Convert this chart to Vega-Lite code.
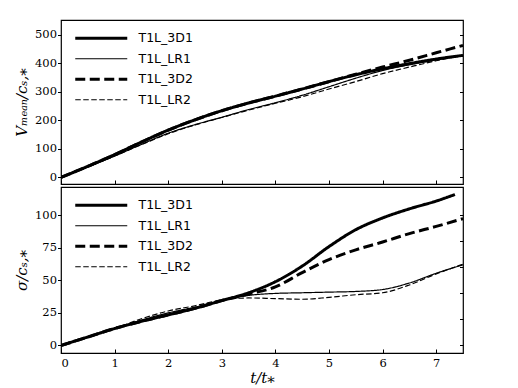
{
  "$schema": "https://vega.github.io/schema/vega-lite/v6.json",
  "background": "white",
  "padding": {"left": 13, "top": 19, "right": 5, "bottom": 2},
  "spacing": 0,
  "config": {
    "view": {"stroke": "black", "strokeWidth": 1.2},
    "axis": {
      "grid": false, "domain": false, "tickColor": "black", "tickWidth": 1,
      "labelFont": "DejaVu Serif", "labelFontSize": 11.5, "labelColor": "black",
      "titleFont": "DejaVu Serif", "titleFontStyle": "italic", "titleFontWeight": "normal",
      "titleFontSize": 15, "titleColor": "black"
    },
    "legend": {
      "orient": "none", "legendX": 34, "legendY": 12, "padding": 0,
      "symbolType": "M-6.5,0H6.5", "symbolSize": 64, "symbolStrokeColor": "black",
      "symbolStrokeWidth": 1.2, "symbolFillColor": "transparent",
      "labelFont": "DejaVu Sans", "labelFontSize": 12.5, "labelColor": "black",
      "labelOffset": 31, "rowPadding": 7.5
    }
  },
  "datasets": {
    "vmean": [
      {"run": "T1L_3D1", "t": 0, "value": 0}, {"run": "T1L_3D1", "t": 0.5, "value": 39}, {"run": "T1L_3D1", "t": 1, "value": 80}, {"run": "T1L_3D1", "t": 1.5, "value": 124}, {"run": "T1L_3D1", "t": 2, "value": 166}, {"run": "T1L_3D1", "t": 2.5, "value": 202}, {"run": "T1L_3D1", "t": 3, "value": 234}, {"run": "T1L_3D1", "t": 3.5, "value": 261}, {"run": "T1L_3D1", "t": 4, "value": 285}, {"run": "T1L_3D1", "t": 4.5, "value": 310}, {"run": "T1L_3D1", "t": 5, "value": 336}, {"run": "T1L_3D1", "t": 5.5, "value": 360}, {"run": "T1L_3D1", "t": 6, "value": 381}, {"run": "T1L_3D1", "t": 6.5, "value": 399}, {"run": "T1L_3D1", "t": 7, "value": 415}, {"run": "T1L_3D1", "t": 7.5, "value": 428},
      {"run": "T1L_LR1", "t": 0, "value": 0}, {"run": "T1L_LR1", "t": 0.5, "value": 37}, {"run": "T1L_LR1", "t": 1, "value": 75}, {"run": "T1L_LR1", "t": 1.5, "value": 116}, {"run": "T1L_LR1", "t": 2, "value": 155}, {"run": "T1L_LR1", "t": 2.5, "value": 185}, {"run": "T1L_LR1", "t": 3, "value": 211}, {"run": "T1L_LR1", "t": 3.5, "value": 238}, {"run": "T1L_LR1", "t": 4, "value": 262}, {"run": "T1L_LR1", "t": 4.5, "value": 288}, {"run": "T1L_LR1", "t": 5, "value": 318}, {"run": "T1L_LR1", "t": 5.5, "value": 348}, {"run": "T1L_LR1", "t": 6, "value": 375}, {"run": "T1L_LR1", "t": 6.5, "value": 395}, {"run": "T1L_LR1", "t": 7, "value": 412}, {"run": "T1L_LR1", "t": 7.5, "value": 427},
      {"run": "T1L_3D2", "t": 0, "value": 0}, {"run": "T1L_3D2", "t": 0.5, "value": 39}, {"run": "T1L_3D2", "t": 1, "value": 80}, {"run": "T1L_3D2", "t": 1.5, "value": 124}, {"run": "T1L_3D2", "t": 2, "value": 166}, {"run": "T1L_3D2", "t": 2.5, "value": 202}, {"run": "T1L_3D2", "t": 3, "value": 234}, {"run": "T1L_3D2", "t": 3.5, "value": 261}, {"run": "T1L_3D2", "t": 4, "value": 285}, {"run": "T1L_3D2", "t": 4.5, "value": 310}, {"run": "T1L_3D2", "t": 5, "value": 336}, {"run": "T1L_3D2", "t": 5.5, "value": 362}, {"run": "T1L_3D2", "t": 6, "value": 387}, {"run": "T1L_3D2", "t": 6.5, "value": 411}, {"run": "T1L_3D2", "t": 7, "value": 437}, {"run": "T1L_3D2", "t": 7.5, "value": 463},
      {"run": "T1L_LR2", "t": 0, "value": 0}, {"run": "T1L_LR2", "t": 0.5, "value": 37}, {"run": "T1L_LR2", "t": 1, "value": 75}, {"run": "T1L_LR2", "t": 1.5, "value": 115}, {"run": "T1L_LR2", "t": 2, "value": 153}, {"run": "T1L_LR2", "t": 2.5, "value": 184}, {"run": "T1L_LR2", "t": 3, "value": 210}, {"run": "T1L_LR2", "t": 3.5, "value": 236}, {"run": "T1L_LR2", "t": 4, "value": 260}, {"run": "T1L_LR2", "t": 4.5, "value": 283}, {"run": "T1L_LR2", "t": 5, "value": 310}, {"run": "T1L_LR2", "t": 5.5, "value": 336}, {"run": "T1L_LR2", "t": 6, "value": 364}, {"run": "T1L_LR2", "t": 6.5, "value": 387}, {"run": "T1L_LR2", "t": 7, "value": 409}, {"run": "T1L_LR2", "t": 7.5, "value": 428}
    ],
    "sigma": [
      {"run": "T1L_3D1", "t": 0, "value": 0}, {"run": "T1L_3D1", "t": 0.5, "value": 6.5}, {"run": "T1L_3D1", "t": 1, "value": 13}, {"run": "T1L_3D1", "t": 1.5, "value": 18.5}, {"run": "T1L_3D1", "t": 2, "value": 23.5}, {"run": "T1L_3D1", "t": 2.5, "value": 28.5}, {"run": "T1L_3D1", "t": 3, "value": 34.5}, {"run": "T1L_3D1", "t": 3.5, "value": 40.5}, {"run": "T1L_3D1", "t": 4, "value": 49}, {"run": "T1L_3D1", "t": 4.5, "value": 61}, {"run": "T1L_3D1", "t": 5, "value": 76}, {"run": "T1L_3D1", "t": 5.5, "value": 89}, {"run": "T1L_3D1", "t": 6, "value": 98}, {"run": "T1L_3D1", "t": 6.5, "value": 105}, {"run": "T1L_3D1", "t": 7, "value": 111}, {"run": "T1L_3D1", "t": 7.35, "value": 116},
      {"run": "T1L_LR1", "t": 0, "value": 0}, {"run": "T1L_LR1", "t": 0.5, "value": 6.5}, {"run": "T1L_LR1", "t": 1, "value": 13}, {"run": "T1L_LR1", "t": 1.5, "value": 19.5}, {"run": "T1L_LR1", "t": 2, "value": 25}, {"run": "T1L_LR1", "t": 2.5, "value": 29.5}, {"run": "T1L_LR1", "t": 3, "value": 34.5}, {"run": "T1L_LR1", "t": 3.5, "value": 38.5}, {"run": "T1L_LR1", "t": 4, "value": 40}, {"run": "T1L_LR1", "t": 4.5, "value": 40.5}, {"run": "T1L_LR1", "t": 5, "value": 41}, {"run": "T1L_LR1", "t": 5.5, "value": 41.5}, {"run": "T1L_LR1", "t": 6, "value": 43}, {"run": "T1L_LR1", "t": 6.5, "value": 48}, {"run": "T1L_LR1", "t": 7, "value": 55.5}, {"run": "T1L_LR1", "t": 7.5, "value": 62},
      {"run": "T1L_3D2", "t": 0, "value": 0}, {"run": "T1L_3D2", "t": 0.5, "value": 6.5}, {"run": "T1L_3D2", "t": 1, "value": 13}, {"run": "T1L_3D2", "t": 1.5, "value": 18.5}, {"run": "T1L_3D2", "t": 2, "value": 23.5}, {"run": "T1L_3D2", "t": 2.5, "value": 28.5}, {"run": "T1L_3D2", "t": 3, "value": 34.5}, {"run": "T1L_3D2", "t": 3.5, "value": 39.5}, {"run": "T1L_3D2", "t": 4, "value": 45}, {"run": "T1L_3D2", "t": 4.5, "value": 56}, {"run": "T1L_3D2", "t": 5, "value": 66}, {"run": "T1L_3D2", "t": 5.5, "value": 73.5}, {"run": "T1L_3D2", "t": 6, "value": 79.5}, {"run": "T1L_3D2", "t": 6.5, "value": 86}, {"run": "T1L_3D2", "t": 7, "value": 91.5}, {"run": "T1L_3D2", "t": 7.5, "value": 97.5},
      {"run": "T1L_LR2", "t": 0, "value": 0}, {"run": "T1L_LR2", "t": 0.5, "value": 6.5}, {"run": "T1L_LR2", "t": 1, "value": 13}, {"run": "T1L_LR2", "t": 1.5, "value": 20.5}, {"run": "T1L_LR2", "t": 2, "value": 26.5}, {"run": "T1L_LR2", "t": 2.5, "value": 30.5}, {"run": "T1L_LR2", "t": 3, "value": 35}, {"run": "T1L_LR2", "t": 3.5, "value": 36.5}, {"run": "T1L_LR2", "t": 4, "value": 36}, {"run": "T1L_LR2", "t": 4.5, "value": 35.5}, {"run": "T1L_LR2", "t": 5, "value": 37}, {"run": "T1L_LR2", "t": 5.5, "value": 39}, {"run": "T1L_LR2", "t": 6, "value": 40.5}, {"run": "T1L_LR2", "t": 6.5, "value": 46.5}, {"run": "T1L_LR2", "t": 7, "value": 55}, {"run": "T1L_LR2", "t": 7.5, "value": 62.5}
    ]
  },
  "vconcat": [
    {
      "width": 402, "height": 164,
      "data": {"name": "vmean"},
      "layer": [
        {
          "mark": {"type": "line", "interpolate": "monotone", "color": "black", "clip": true},
          "encoding": {
            "x": {"field": "t", "type": "quantitative", "scale": {"domain": [0, 7.5], "nice": false, "zero": false},
                  "axis": {"orient": "bottom", "values": [0, 1, 2, 3, 4, 5, 6, 7], "labels": false, "title": null, "tickSize": -4}},
            "y": {"field": "value", "type": "quantitative", "scale": {"domain": [-23, 552], "nice": false, "zero": false},
                  "axis": {"orient": "left", "values": [0, 100, 200, 300, 400, 500], "tickSize": 3.5, "labelPadding": 1, "title": "Vₘₑₐₙ/cₛ,⁎", "titlePadding": 5}},
            "strokeDash": {"field": "run", "type": "nominal",
                  "scale": {"domain": ["T1L_3D1", "T1L_LR1", "T1L_3D2", "T1L_LR2"], "range": [[1, 0], [1, 0], [10, 4.5], [5.5, 2.5]]},
                  "legend": {"title": null, "encode": {"symbols": {"update": {"strokeWidth": {"signal": "indexof(['T1L_3D1','T1L_3D2'], datum.value) >= 0 ? 3 : 1.2"}}}}}},
            "strokeWidth": {"condition": {"test": "datum.run === 'T1L_3D1' || datum.run === 'T1L_3D2'", "value": 3}, "value": 1.2}
          }
        },
        {
          "mark": {"type": "point", "opacity": 0},
          "encoding": {
            "x": {"field": "t", "type": "quantitative", "scale": {"domain": [0, 7.5], "nice": false, "zero": false}, "axis": null},
            "y": {"field": "value", "type": "quantitative", "scale": {"domain": [-23, 552], "nice": false, "zero": false},
                  "axis": {"orient": "right", "values": [0, 100, 200, 300, 400, 500], "labels": false, "title": null, "tickSize": -3.5}}
          }
        }
      ],
      "resolve": {"axis": {"x": "independent", "y": "independent"}}
    },
    {
      "width": 402, "height": 166,
      "data": {"name": "sigma"},
      "layer": [
        {
          "mark": {"type": "line", "interpolate": "monotone", "color": "black", "clip": true},
          "encoding": {
            "x": {"field": "t", "type": "quantitative", "scale": {"domain": [0, 7.5], "nice": false, "zero": false},
                  "axis": {"orient": "bottom", "values": [0, 1, 2, 3, 4, 5, 6, 7], "tickSize": -4, "labelPadding": 8.5, "title": "t/t⁎", "titlePadding": 1}},
            "y": {"field": "value", "type": "quantitative", "scale": {"domain": [-5.8, 121.8], "nice": false, "zero": false},
                  "axis": {"orient": "left", "values": [0, 25, 50, 75, 100], "tickSize": 3.5, "labelPadding": 1, "title": "σ/cₛ,⁎", "titlePadding": 5}},
            "strokeDash": {"field": "run", "type": "nominal",
                  "scale": {"domain": ["T1L_3D1", "T1L_LR1", "T1L_3D2", "T1L_LR2"], "range": [[1, 0], [1, 0], [10, 4.5], [5.5, 2.5]]},
                  "legend": {"title": null, "encode": {"symbols": {"update": {"strokeWidth": {"signal": "indexof(['T1L_3D1','T1L_3D2'], datum.value) >= 0 ? 3 : 1.2"}}}}}},
            "strokeWidth": {"condition": {"test": "datum.run === 'T1L_3D1' || datum.run === 'T1L_3D2'", "value": 3}, "value": 1.2}
          }
        },
        {
          "mark": {"type": "point", "opacity": 0},
          "encoding": {
            "x": {"field": "t", "type": "quantitative", "scale": {"domain": [0, 7.5], "nice": false, "zero": false}, "axis": null},
            "y": {"field": "value", "type": "quantitative", "scale": {"domain": [-5.8, 121.8], "nice": false, "zero": false},
                  "axis": {"orient": "right", "values": [0, 20, 40, 60, 80, 100], "labels": false, "title": null, "tickSize": -3.5}}
          }
        }
      ],
      "resolve": {"axis": {"x": "independent", "y": "independent"}}
    }
  ],
  "resolve": {"scale": {"strokeDash": "independent"}, "legend": {"strokeDash": "independent"}}
}
